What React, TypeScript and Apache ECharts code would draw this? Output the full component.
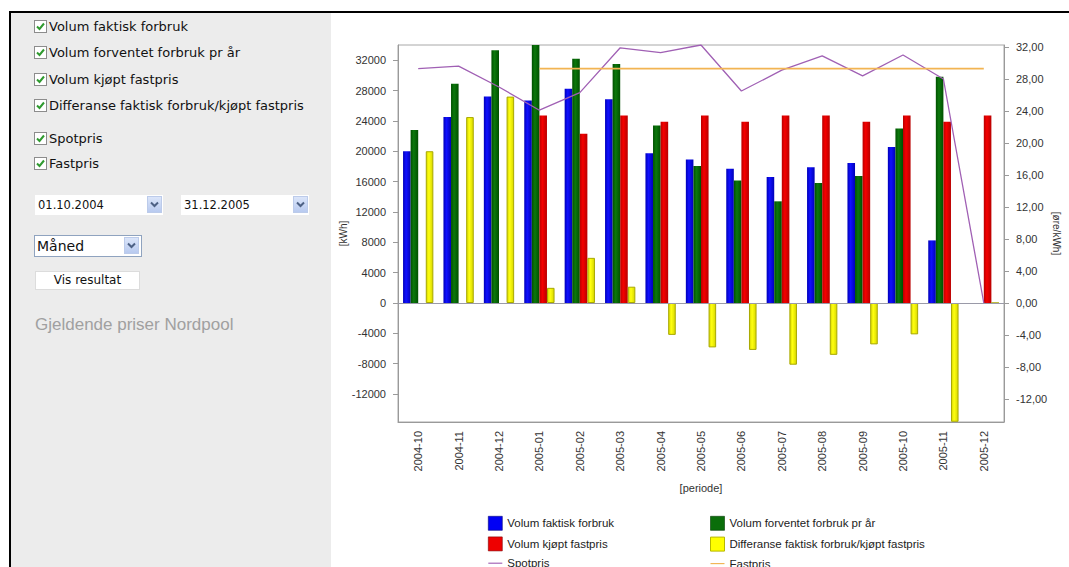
import React, { useEffect, useRef } from 'react';
import * as echarts from 'echarts';

const categories = ['2004-10', '2004-11', '2004-12', '2005-01', '2005-02', '2005-03', '2005-04', '2005-05', '2005-06', '2005-07', '2005-08', '2005-09', '2005-10', '2005-11', '2005-12'];
const volumFaktisk = [20000, 24500, 27200, 26700, 28250, 26850, 19750, 18900, 17700, 16600, 17900, 18450, 20550, 8250, 0];
const volumForventet = [22800, 28900, 33300, 34000, 32200, 31500, 23400, 18050, 16150, 13400, 15800, 16750, 23000, 29800, 0];
const volumKjopt = [0, 0, 0, 24700, 22300, 24700, 23900, 24700, 23900, 24700, 24700, 23900, 24700, 23900, 24700];
const differanse = [20000, 24500, 27200, 2000, 5950, 2150, -4200, -5850, -6180, -8130, -6830, -5450, -4130, -15650, 0];
const spotpris = [29.3, 29.6, 27.0, 24.1, 26.3, 31.9, 31.3, 32.25, 26.5, 29.1, 30.9, 28.4, 31.0, 28.0, 0];
const fastpris = [null, null, null, 29.3, 29.3, 29.3, 29.3, 29.3, 29.3, 29.3, 29.3, 29.3, 29.3, 29.3, 29.3];
const leftTicks = [-12000, -8000, -4000, 0, 4000, 8000, 12000, 16000, 20000, 24000, 28000, 32000];
const rightTicks = [-12, -8, -4, 0, 4, 8, 12, 16, 20, 24, 28, 32];

const FONT = '"Liberation Sans", Arial, sans-serif';
const UI_FONT = '"DejaVu Sans", Verdana, sans-serif';
const LINE_ICON = 'path://M0,0 L16,0 L16,1.3 L0,1.3 Z';

function barGradient(edge: string, mid: string) {
  return new echarts.graphic.LinearGradient(0, 0, 1, 0, [
    { offset: 0, color: edge },
    { offset: 0.4, color: mid },
    { offset: 1, color: edge },
  ]);
}

function Check({ top }: { top: number }) {
  return (
    <svg width={13} height={13} style={{ position: 'absolute', left: 34, top }}>
      <rect x={0.5} y={0.5} width={12} height={12} fill="#fff" stroke="#8c8c8c" />
      <polyline points="3,6.5 5.5,9 10,3.5" fill="none" stroke="#2f9a2f" strokeWidth={2} />
    </svg>
  );
}

function DropBtn({ left, top }: { left: number; top: number }) {
  return (
    <svg width={15} height={17} style={{ position: 'absolute', left, top }}>
      <defs>
        <linearGradient id="dbg" x1="0" y1="0" x2="0" y2="1">
          <stop offset="0" stopColor="#dce6fa" />
          <stop offset="1" stopColor="#b7c9ef" />
        </linearGradient>
      </defs>
      <rect x={0.5} y={0.5} width={14} height={16} fill="url(#dbg)" stroke="#bccbea" />
      <polyline points="4,6.5 7.5,10 11,6.5" fill="none" stroke="#4d6185" strokeWidth={2} />
    </svg>
  );
}

const checkRows = [
  { label: 'Volum faktisk forbruk', y: 26.5 },
  { label: 'Volum forventet forbruk pr år', y: 52 },
  { label: 'Volum kjøpt fastpris', y: 79 },
  { label: 'Differanse faktisk forbruk/kjøpt fastpris', y: 105 },
  { label: 'Spotpris', y: 138 },
  { label: 'Fastpris', y: 163 },
];

export default function App() {
  const ref = useRef<HTMLDivElement>(null);

  useEffect(() => {
    if (!ref.current) return;
    const chart = echarts.init(ref.current, undefined, { renderer: 'svg' });
    const axisColor = '#9a9a9a';
    const labelStyle = { fontFamily: FONT, fontSize: 11, color: '#333' };
    const legendText = { fontFamily: FONT, fontSize: 11.5, color: '#222' };
    const legendBase = {
      top: 516, orient: 'vertical', itemWidth: 14, itemHeight: 14, itemGap: 6,
      padding: 0, icon: 'rect', symbolKeepAspect: true, textStyle: legendText,
    };
    const option: any = {
      animation: false,
      backgroundColor: '#fff',
      grid: {
        left: 398, top: 45, width: 622, height: 377,
        show: true, borderColor: '#a8a8a8', borderWidth: 1,
      },
      legend: [
        {
          ...legendBase,
          left: 488,
          data: [
            { name: 'Volum faktisk forbruk', itemStyle: { color: '#0000f5', borderColor: '#00007a', borderWidth: 0.6 } },
            { name: 'Volum kjøpt fastpris', itemStyle: { color: '#ee0000', borderColor: '#800000', borderWidth: 0.6 } },
            { name: 'Spotpris', icon: LINE_ICON, itemStyle: { color: '#a060b4', borderWidth: 0 } },
          ],
        },
        {
          ...legendBase,
          left: 710,
          data: [
            { name: 'Volum forventet forbruk pr år', itemStyle: { color: '#0a6e0a', borderColor: '#003800', borderWidth: 0.6 } },
            { name: 'Differanse faktisk forbruk/kjøpt fastpris', itemStyle: { color: '#ffff00', borderColor: '#b8b800', borderWidth: 1 } },
            { name: 'Fastpris', icon: LINE_ICON, itemStyle: { color: '#f2b452', borderWidth: 0 } },
          ],
        },
      ],
      xAxis: {
        type: 'category',
        data: categories,
        boundaryGap: true,
        name: '[periode]',
        nameLocation: 'middle',
        nameGap: 60,
        nameMoveOverlap: false,
        nameTextStyle: { fontFamily: FONT, fontSize: 11, color: '#333' },
        axisLine: { onZero: false, lineStyle: { color: axisColor } },
        axisTick: { alignWithLabel: true, length: 5, lineStyle: { color: axisColor } },
        axisLabel: { ...labelStyle, rotate: 90, margin: 9, interval: 0 },
        splitLine: { show: false },
      },
      yAxis: [
        {
          type: 'value',
          position: 'left',
          min: -15680,
          max: 34000,
          name: '[kWh]',
          nameLocation: 'middle',
          nameGap: 50,
          nameMoveOverlap: false,
          nameTextStyle: { fontFamily: FONT, fontSize: 10, color: '#333' },
          axisLine: { show: true, lineStyle: { color: axisColor } },
          axisTick: { show: true, length: 5, customValues: leftTicks, lineStyle: { color: axisColor } },
          axisLabel: { ...labelStyle, margin: 12, customValues: leftTicks, formatter: (v: number) => String(v) },
          splitLine: { show: false },
        },
        {
          type: 'value',
          position: 'right',
          min: -14.875,
          max: 32.25,
          name: '[øre/kWh]',
          nameLocation: 'middle',
          nameGap: 47,
          nameRotate: -90,
          nameMoveOverlap: false,
          nameTextStyle: { fontFamily: FONT, fontSize: 10, color: '#333' },
          axisLine: { show: true, lineStyle: { color: axisColor } },
          axisTick: { show: true, length: 5, customValues: rightTicks, lineStyle: { color: axisColor } },
          axisLabel: { ...labelStyle, margin: 12, customValues: rightTicks, formatter: (v: number) => v.toFixed(2).replace('.', ',') },
          splitLine: { show: false },
        },
      ],
      series: [
        {
          name: 'Volum faktisk forbruk', type: 'bar', yAxisIndex: 0, data: volumFaktisk,
          barGap: '0%', barCategoryGap: '25%',
          itemStyle: { color: barGradient('#0000b8', '#1010ff') },
          markLine: {
            silent: true, symbol: 'none', label: { show: false },
            lineStyle: { color: '#9a9aa8', type: 'solid', width: 1 },
            data: [{ yAxis: 0 }],
          },
        },
        {
          name: 'Volum forventet forbruk pr år', type: 'bar', yAxisIndex: 0, data: volumForventet,
          barGap: '0%', barCategoryGap: '25%',
          itemStyle: { color: barGradient('#005000', '#0c780c') },
        },
        {
          name: 'Volum kjøpt fastpris', type: 'bar', yAxisIndex: 0, data: volumKjopt,
          barGap: '0%', barCategoryGap: '25%',
          itemStyle: { color: barGradient('#b80000', '#f50000') },
        },
        {
          name: 'Differanse faktisk forbruk/kjøpt fastpris', type: 'bar', yAxisIndex: 0, data: differanse,
          barGap: '0%', barCategoryGap: '25%',
          itemStyle: { color: barGradient('#d8d800', '#ffff10'), borderColor: '#a8a800', borderWidth: 1 },
        },
        {
          name: 'Spotpris', type: 'line', yAxisIndex: 1, data: spotpris,
          symbol: 'none', z: 5,
          itemStyle: { color: '#a060b4' },
          lineStyle: { color: '#a060b4', width: 1.3 },
        },
        {
          name: 'Fastpris', type: 'line', yAxisIndex: 1, data: fastpris,
          symbol: 'none', z: 5, connectNulls: false,
          itemStyle: { color: '#f2b452' },
          lineStyle: { color: '#f2b452', width: 1.6 },
        },
      ],
    };
    chart.setOption(option);
    return () => chart.dispose();
  }, []);

  return (
    <div style={{ position: 'absolute', left: 0, top: 0, width: 1069, height: 567, overflow: 'hidden', background: '#fff' }}>
      <div ref={ref} style={{ position: 'absolute', left: 0, top: 0, width: 1069, height: 620 }} />
      <div style={{ position: 'absolute', left: 9, top: 11, width: 1060, height: 2, background: '#000' }} />
      <div style={{ position: 'absolute', left: 9, top: 11, width: 2, height: 556, background: '#000' }} />
      <div style={{ position: 'absolute', left: 11, top: 13, width: 320, height: 554, background: '#ececec', fontFamily: UI_FONT }}>
        <div style={{ position: 'absolute', left: -11, top: -13, width: 0, height: 0 }}>
          {checkRows.map((r) => (
            <React.Fragment key={r.label}>
              <Check top={r.y - 6.5} />
              <div style={{ position: 'absolute', left: 49, top: r.y - 8.5, fontSize: 13, lineHeight: '17px', color: '#111', whiteSpace: 'nowrap' }}>{r.label}</div>
            </React.Fragment>
          ))}
          <div style={{ position: 'absolute', left: 35, top: 195, width: 128, height: 20, background: '#fff' }} />
          <div style={{ position: 'absolute', left: 38, top: 197.5, fontSize: 11.5, lineHeight: '15px', color: '#111', whiteSpace: 'nowrap' }}>01.10.2004</div>
          <DropBtn left={147} top={196} />
          <div style={{ position: 'absolute', left: 181, top: 195, width: 128, height: 20, background: '#fff' }} />
          <div style={{ position: 'absolute', left: 184, top: 197.5, fontSize: 11.5, lineHeight: '15px', color: '#111', whiteSpace: 'nowrap' }}>31.12.2005</div>
          <DropBtn left={293} top={196} />
          <div style={{ position: 'absolute', left: 34, top: 235, width: 106, height: 20, background: '#fff', border: '1px solid #8fa3bf' }} />
          <div style={{ position: 'absolute', left: 37, top: 236, fontSize: 14, lineHeight: '20px', color: '#111', whiteSpace: 'nowrap' }}>Måned</div>
          <DropBtn left={124} top={237} />
          <div style={{ position: 'absolute', left: 35, top: 271, width: 105, height: 19, background: '#fff', border: '1px solid #dcdcdc', boxSizing: 'border-box' }} />
          <div style={{ position: 'absolute', left: 35, top: 272, width: 105, textAlign: 'center', fontSize: 12, lineHeight: '16px', color: '#111', whiteSpace: 'nowrap' }}>Vis resultat</div>
          <div style={{ position: 'absolute', left: 35, top: 315, fontFamily: FONT, fontSize: 17, lineHeight: '20px', color: '#a0a0a0', whiteSpace: 'nowrap' }}>Gjeldende priser Nordpool</div>
        </div>
      </div>
    </div>
  );
}
